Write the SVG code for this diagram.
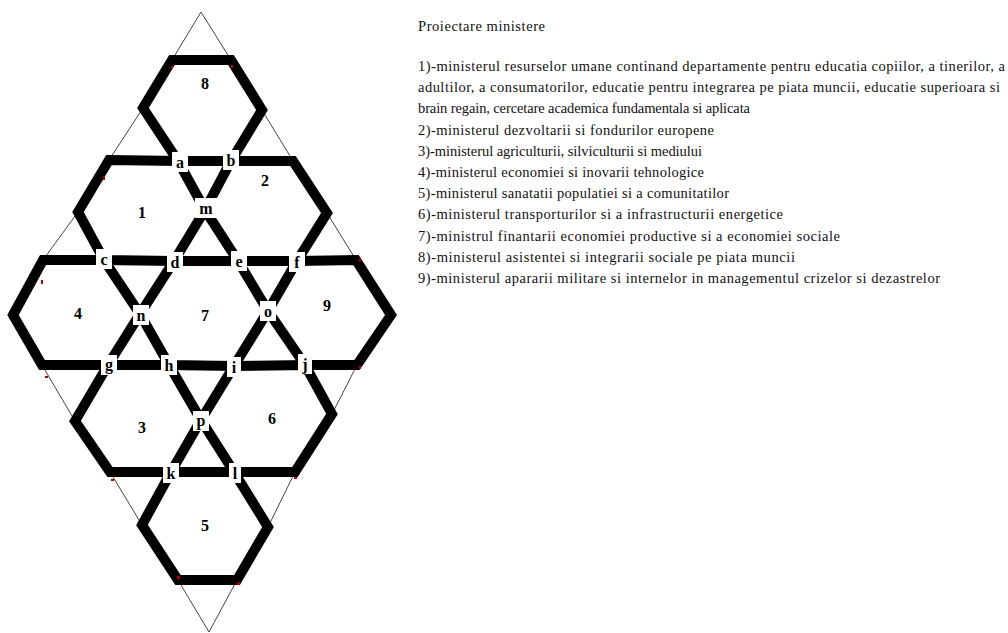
<svg xmlns="http://www.w3.org/2000/svg" width="1008" height="633" viewBox="0 0 1008 633">
<style>
.bg{fill:#fff}
.thin{fill:none;stroke:#444;stroke-width:1}
.hex{fill:none;stroke:#000;stroke-width:10;stroke-linejoin:miter;stroke-miterlimit:4}
.box{fill:#fff}
.red{fill:#b00000}
.vl{font-weight:bold;font-size:16px;text-anchor:middle;fill:#000}
.num{font-weight:bold;font-size:16px;text-anchor:middle;fill:#000}
.txt{font-size:14.5px;fill:#111}
</style>
<rect class="bg" x="0" y="0" width="1008" height="633"/>
<g id="outline">
<polyline class="thin" points="201,12 172,60 143,108 109,160 78,212 43,260 13,315 42,365 75,421 110,472 142,525 178,580 209,632 237,580 268,527 295,472 332,414 357,365 391,315 356,260 327,213 293,161 262,110 231,60 201,12"/>
</g>
<g id="connectors">
<polygon id="hex-8" class="hex" points="172,60 231,60 262,110 231,161 178,161 143,108"/>
<polygon id="hex-1" class="hex" points="109,160 178,161 205,210 174,261 104,260 78,212"/>
<polygon id="hex-2" class="hex" points="231,161 293,161 327,213 297,261 238,261 205,210"/>
<polygon id="hex-4" class="hex" points="43,260 104,260 140,314 108,365 42,365 13,315"/>
<polygon id="hex-7" class="hex" points="174,261 238,261 268,311 234,366 169,365 140,314"/>
<polygon id="hex-9" class="hex" points="297,261 356,260 391,315 357,365 305,365 268,311"/>
<polygon id="hex-3" class="hex" points="108,365 169,365 201,420 171,472 110,472 75,421"/>
<polygon id="hex-6" class="hex" points="234,366 305,365 332,414 295,472 234,472 201,420"/>
<polygon id="hex-5" class="hex" points="171,472 234,472 268,527 237,580 178,580 142,525"/>
</g>
<g id="marks">
<rect class="red" x="171" y="66" width="2" height="3"/>
<rect class="red" x="231" y="65" width="2" height="3"/>
<rect class="red" x="103" y="176" width="2" height="4"/>
<rect class="red" x="41" y="280" width="2" height="4"/>
<rect class="red" x="45" y="376" width="3" height="2"/>
<rect class="red" x="111" y="479" width="3" height="2"/>
<rect class="red" x="177" y="576" width="3" height="3"/>
<rect class="red" x="294" y="477" width="3" height="2"/>
<rect class="red" x="237" y="582" width="3" height="3"/>
<rect class="red" x="359" y="259" width="2" height="3"/>
<rect class="red" x="359" y="366" width="2" height="3"/>
</g>
<g id="region-numbers" font-family="Liberation Serif, Times New Roman, serif">
<text class="num" x="205" y="89">8</text>
<text class="num" x="142" y="218">1</text>
<text class="num" x="265" y="186">2</text>
<text class="num" x="78" y="319">4</text>
<text class="num" x="205" y="321">7</text>
<text class="num" x="327" y="311">9</text>
<text class="num" x="142" y="433">3</text>
<text class="num" x="272" y="424">6</text>
<text class="num" x="205" y="531">5</text>
</g>
<g id="vertices" font-family="Liberation Serif, Times New Roman, serif">
<g id="node-a"><rect class="box" x="172" y="152" width="16" height="20"/><text class="vl" x="180" y="168">a</text></g>
<g id="node-b"><rect class="box" x="223" y="150" width="16" height="20"/><text class="vl" x="231" y="166">b</text></g>
<g id="node-m"><rect class="box" x="195" y="198" width="22" height="20"/><text class="vl" x="206" y="214">m</text></g>
<g id="node-c"><rect class="box" x="96" y="249" width="16" height="20"/><text class="vl" x="104" y="265">c</text></g>
<g id="node-d"><rect class="box" x="167" y="252" width="16" height="20"/><text class="vl" x="175" y="268">d</text></g>
<g id="node-e"><rect class="box" x="231" y="251" width="16" height="20"/><text class="vl" x="239" y="267">e</text></g>
<g id="node-f"><rect class="box" x="289" y="252" width="16" height="20"/><text class="vl" x="297" y="268">f</text></g>
<g id="node-n"><rect class="box" x="133" y="305" width="16" height="20"/><text class="vl" x="141" y="321">n</text></g>
<g id="node-o"><rect class="box" x="260" y="301" width="16" height="20"/><text class="vl" x="268" y="317">o</text></g>
<g id="node-g"><rect class="box" x="101" y="355" width="16" height="20"/><text class="vl" x="109" y="370">g</text></g>
<g id="node-h"><rect class="box" x="161" y="355" width="16" height="20"/><text class="vl" x="169" y="371">h</text></g>
<g id="node-i"><rect class="box" x="227" y="357" width="14" height="20"/><text class="vl" x="234" y="373">i</text></g>
<g id="node-j"><rect class="box" x="298" y="354" width="14" height="20"/><text class="vl" x="305" y="370">j</text></g>
<g id="node-p"><rect class="box" x="193" y="411" width="16" height="20"/><text class="vl" x="201" y="426">p</text></g>
<g id="node-k"><rect class="box" x="163" y="463" width="16" height="20"/><text class="vl" x="171" y="479">k</text></g>
<g id="node-l"><rect class="box" x="229" y="463" width="12" height="20"/><text class="vl" x="235" y="479">l</text></g>
</g>
<g id="legend" font-family="Liberation Serif, Times New Roman, serif">
<text class="txt" x="418" y="31" textLength="127" lengthAdjust="spacing">Proiectare ministere</text>
<text class="txt" x="418" y="71" textLength="587" lengthAdjust="spacing">1)-ministerul resurselor umane continand departamente pentru educatia copiilor, a tinerilor, a</text>
<text class="txt" x="418" y="92" textLength="582" lengthAdjust="spacing">adultilor, a consumatorilor, educatie pentru integrarea pe piata muncii, educatie superioara si</text>
<text class="txt" x="418" y="113" textLength="332" lengthAdjust="spacing">brain regain, cercetare academica fundamentala si aplicata</text>
<text class="txt" x="418" y="135" textLength="296" lengthAdjust="spacing">2)-ministerul dezvoltarii si fondurilor europene</text>
<text class="txt" x="418" y="156" textLength="284" lengthAdjust="spacing">3)-ministerul agriculturii, silviculturii si mediului</text>
<text class="txt" x="418" y="177" textLength="286" lengthAdjust="spacing">4)-ministerul economiei si inovarii tehnologice</text>
<text class="txt" x="418" y="198" textLength="311" lengthAdjust="spacing">5)-ministerul sanatatii populatiei si a comunitatilor</text>
<text class="txt" x="418" y="219" textLength="365" lengthAdjust="spacing">6)-ministerul transporturilor si a infrastructurii energetice</text>
<text class="txt" x="418" y="241" textLength="422" lengthAdjust="spacing">7)-ministrul finantarii economiei productive si a economiei sociale</text>
<text class="txt" x="418" y="262" textLength="377" lengthAdjust="spacing">8)-ministerul asistentei si integrarii sociale pe piata muncii</text>
<text class="txt" x="418" y="283" textLength="522" lengthAdjust="spacing">9)-ministerul apararii militare si internelor in managementul crizelor si dezastrelor</text>
</g>
</svg>
